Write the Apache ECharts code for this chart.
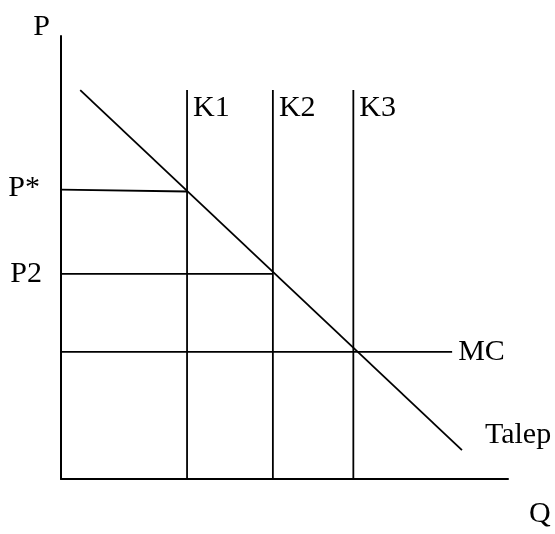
<!DOCTYPE html>
<html>
<head>
<meta charset="utf-8">
<script src="https://cdn.jsdelivr.net/npm/echarts@6/dist/echarts.min.js"></script>
<style>
    html, body { margin: 0; padding: 0; background: #fff; }
    #main { width: 555px; height: 534px; }
</style>
</head>
<body>
<div id="main"></div>
<script>
// capacity lines (Q positions) and their labels
var capNames = ['K1', 'K2', 'K3'];
var capQ = [28.2, 47.4, 65.4];
var capTop = 87.8;

// demand (Talep) line endpoints
var demand = [[4.3, 87.8], [89.7, 6.5]];

// price levels
var pStar = [[0, 65.3], [28.2, 64.9]];
var p2 = [[0, 46.3], [47.4, 46.3]];
var mc = [[0, 28.7], [87.5, 28.7]];

var font = 'Liberation Serif, Times New Roman, serif';
var fs = 30;
var lineStyle = { color: '#000', width: 1.8 };

var myChart = echarts.init(document.getElementById('main'));

function seg(name, data, label) {
    return {
        name: name,
        type: 'line',
        data: data,
        symbol: 'circle',
        symbolSize: 0,
        showSymbol: true,
        silent: true,
        itemStyle: { color: '#000' },
        lineStyle: lineStyle,
        label: label || { show: false }
    };
}

function lbl(text, pos, offset, idx) {
    return {
        show: true,
        position: pos,
        offset: offset,
        distance: 0,
        formatter: function(p) { return p.dataIndex === idx ? text : ''; },
        color: '#000',
        fontFamily: font,
        fontSize: fs
    };
}

var series = [];
capNames.forEach(function(n, i) {
    series.push(seg(n, [[capQ[i], 0], [capQ[i], capTop]], lbl(n, 'right', [6, 18], 1)));
});
series.push(seg('Talep', demand, lbl('Talep', 'right', [23, -15], 1)));
series.push(seg('P*', pStar, lbl('P*', 'left', [-21, -2], 0)));
series.push(seg('P2', p2, lbl('P2', 'left', [-19, 0], 0)));
series.push(seg('MC', mc, lbl('MC', 'right', [6, 0], 1)));

var option = {
    animation: false,
    grid: { left: 61, top: 36, right: 47, bottom: 55 },
    xAxis: {
        type: 'value',
        min: 0,
        max: 100,
        name: 'Q',
        nameLocation: 'end',
        nameGap: 21,
        nameTextStyle: { color: '#000', fontFamily: font, fontSize: fs, verticalAlign: 'top', padding: [20, 0, 0, 0] },
        axisLine: { lineStyle: { color: '#000', width: 2 } },
        axisTick: { show: false },
        axisLabel: { show: false },
        splitLine: { show: false }
    },
    yAxis: {
        type: 'value',
        min: 0,
        max: 100,
        name: 'P',
        nameLocation: 'end',
        nameGap: 9,
        nameTextStyle: { color: '#000', fontFamily: font, fontSize: fs, align: 'right', verticalAlign: 'middle', padding: [0, 11, 0, 0] },
        axisLine: { lineStyle: { color: '#000', width: 2 } },
        axisTick: { show: false },
        axisLabel: { show: false },
        splitLine: { show: false }
    },
    series: series
};

myChart.setOption(option);
</script>
</body>
</html>
